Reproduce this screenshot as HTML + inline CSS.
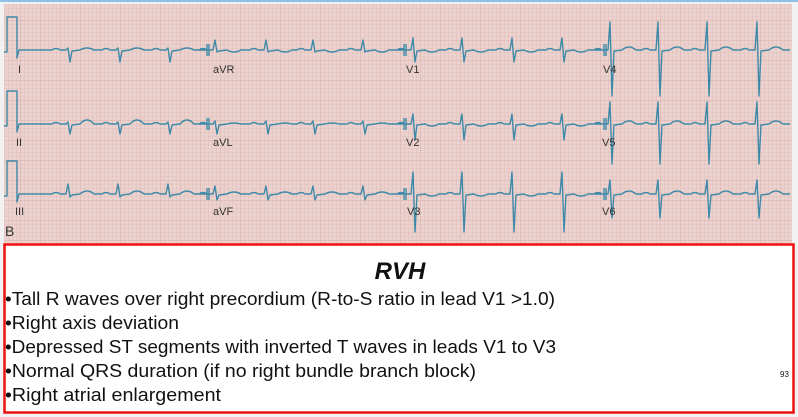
<!DOCTYPE html>
<html><head><meta charset="utf-8"><style>
html,body{margin:0;padding:0;background:#fff;width:798px;height:417px;overflow:hidden}
#w{position:relative;width:798px;height:417px}
svg{position:absolute;left:0;top:0}
</style></head><body><div id="w">
<svg width="798" height="417" xmlns="http://www.w3.org/2000/svg">
<defs>
<pattern id="sg" width="4" height="4" patternUnits="userSpaceOnUse"><rect width="4" height="4" fill="#ebd2ce"/><path d="M0 0H4M0 0V4" stroke="#dcb3ae" stroke-width="0.6"/></pattern>
<pattern id="bg" width="20" height="20" patternUnits="userSpaceOnUse"><rect width="20" height="20" fill="url(#sg)"/><path d="M0 0H20M0 0V20" stroke="#d5a7a2" stroke-width="0.8"/></pattern>
</defs>
<rect x="0" y="0" width="798" height="417" fill="#f2f2f2"/>
<rect x="0" y="0" width="798" height="2" fill="#8fc0e8"/>
<rect x="4" y="4" width="788" height="240" fill="url(#bg)"/>
<g id="ecg" fill="none" stroke="#3f8aa8" stroke-width="1.4" stroke-linejoin="round"></g>
<g font-family="Liberation Sans, sans-serif" font-size="11" fill="#333">
<text x="18" y="73">I</text><text x="213" y="73">aVR</text><text x="406" y="73">V1</text><text x="603" y="73">V4</text>
<text x="16" y="146">II</text><text x="213" y="146">aVL</text><text x="406" y="146">V2</text><text x="602" y="146">V5</text>
<text x="15" y="215">III</text><text x="213" y="215">aVF</text><text x="407" y="215">V3</text><text x="602" y="215">V6</text>
<text x="5" y="236" font-size="14">B</text>
</g>
<rect x="4.5" y="244.5" width="789" height="168" fill="#fff" stroke="#ee1111" stroke-width="2.5"/>
<g font-family="Liberation Sans, sans-serif" fill="#111">
<text x="400" y="279" font-size="24" font-weight="bold" font-style="italic" text-anchor="middle">RVH</text>
<text x="5" y="305" font-size="18" textLength="550" lengthAdjust="spacingAndGlyphs">•Tall R waves over right precordium (R-to-S ratio in lead V1 &gt;1.0)</text>
<text x="5" y="329" font-size="18" textLength="174" lengthAdjust="spacingAndGlyphs">•Right axis deviation</text>
<text x="5" y="353" font-size="18" textLength="551" lengthAdjust="spacingAndGlyphs">•Depressed ST segments with inverted T waves in leads V1 to V3</text>
<text x="5" y="377" font-size="18" textLength="471" lengthAdjust="spacingAndGlyphs">•Normal QRS duration (if no right bundle branch block)</text>
<text x="5" y="401" font-size="18" textLength="216" lengthAdjust="spacingAndGlyphs">•Right atrial enlargement</text>
<text x="780" y="377" font-size="8">93</text>
</g>
</svg></div>
<script>
var g=document.getElementById('ecg');
var rows=[50,124,194];
var segs=[[20,208],[208,405],[405,605],[605,790]];
var beatX=[[68,118,168],[215,266,313,363],[413,462,512,562],[610,658,707,757]];
// [r, s, t] amplitudes per row/seg
var A=[[[2,12,2],[10,2,-2],[12,12,-2],[28,46,3]],
       [[2,10,4],[3,10,1],[10,16,-2],[22,40,3]],
       [[10,3,3],[8,6,2],[22,38,-2],[14,24,3]]];
var d='';
for(var r=0;r<3;r++){var y=rows[r];
 d+='M4 '+(y+2)+'H7V'+(y-33)+'H17V'+(y+8)+'L19 '+y;
 for(var s=0;s<4;s++){var a=A[r][s];var x0=segs[s][0];
  d+=(s==0?'L':'M')+(s==0?22:x0-2)+' '+y;
  beatX[s].forEach(function(bx){
   d+='L'+(bx-16)+' '+y+'Q'+(bx-12)+' '+(y-3)+' '+(bx-8)+' '+y+'L'+(bx-2)+' '+y+'L'+(bx)+' '+(y-a[0])+'L'+(bx+2)+' '+(y+a[1])+'L'+(bx+4)+' '+(y+1)+'L'+(bx+12)+' '+y+'Q'+(bx+19)+' '+(y-a[2]*2)+' '+(bx+26)+' '+y;
  });
  d+='L'+segs[s][1]+' '+y;
  if(s<3){var e=segs[s][1];d+='M'+(e-1)+' '+(y-6)+'V'+(y+6)+'M'+(e+1)+' '+(y-6)+'V'+(y+6);}
 }
}
var p=document.createElementNS('http://www.w3.org/2000/svg','path');p.setAttribute('d',d);g.appendChild(p);
</script>
</body></html>
